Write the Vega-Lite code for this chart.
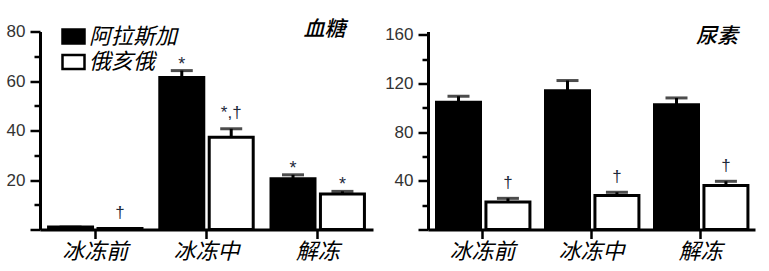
{
  "$schema": "https://vega.github.io/schema/vega-lite/v6.json",
  "background": "white",
  "padding": {"left": 6, "top": 18.5, "right": 5, "bottom": 6},
  "spacing": 11,
  "datasets": {
    "glucose": [
      {"period": "冰冻前", "group": "阿拉斯加", "value": 1.0, "upper": 1.0, "label": ""},
      {"period": "冰冻前", "group": "俄亥俄", "value": 0.4, "upper": 0.4, "label": "†"},
      {"period": "冰冻中", "group": "阿拉斯加", "value": 61.4, "upper": 64.2, "label": "*"},
      {"period": "冰冻中", "group": "俄亥俄", "value": 37.3, "upper": 40.7, "label": "*,†"},
      {"period": "解冻", "group": "阿拉斯加", "value": 20.5, "upper": 22.1, "label": "*"},
      {"period": "解冻", "group": "俄亥俄", "value": 14.3, "upper": 15.4, "label": "*"}
    ],
    "urea": [
      {"period": "冰冻前", "group": "阿拉斯加", "value": 104.5, "upper": 109.5, "label": ""},
      {"period": "冰冻前", "group": "俄亥俄", "value": 22.6, "upper": 25.6, "label": "†"},
      {"period": "冰冻中", "group": "阿拉斯加", "value": 114.1, "upper": 122.4, "label": ""},
      {"period": "冰冻中", "group": "俄亥俄", "value": 27.9, "upper": 30.6, "label": "†"},
      {"period": "解冻", "group": "阿拉斯加", "value": 102.6, "upper": 108.1, "label": ""},
      {"period": "解冻", "group": "俄亥俄", "value": 36.1, "upper": 39.6, "label": "†"}
    ]
  },
  "hconcat": [
    {
      "width": 333,
      "height": 198,
      "data": {"name": "glucose"},
      "encoding": {
        "x": {"field": "period", "type": "nominal", "sort": ["冰冻前", "冰冻中", "解冻"], "scale": {"paddingInner": 0.16, "paddingOuter": 0.077},
          "axis": {"title": null, "labelAngle": 0, "labelFont": "Noto Sans CJK SC", "labelFontSize": 22, "labelFontStyle": "italic", "labelColor": "black", "tickSize": 9, "labelPadding": 3}},
        "xOffset": {"field": "group", "type": "nominal", "sort": ["阿拉斯加", "俄亥俄"], "scale": {"paddingInner": 0.11, "paddingOuter": 0}}
      },
      "layer": [
        {
          "mark": {"type": "bar", "stroke": "black", "strokeWidth": 3},
          "encoding": {
            "y": {"field": "value", "type": "quantitative", "scale": {"domain": [0, 80], "nice": false},
              "axis": {"title": null, "orient": "left", "values": [0, 20, 40, 60, 80], "labelExpr": "datum.value == 0 ? '' : datum.label", "tickSize": 10}},
            "fill": {"field": "group", "type": "nominal", "sort": ["阿拉斯加", "俄亥俄"], "scale": {"domain": ["阿拉斯加", "俄亥俄"], "range": ["black", "white"]},
              "legend": {"orient": "none", "legendX": 21, "legendY": -7.5, "direction": "vertical", "title": null, "symbolType": "M-1,-0.64H1V0.64H-1Z", "symbolSize": 484, "symbolStrokeColor": "black", "symbolStrokeWidth": 2.5, "labelFont": "Noto Sans CJK SC", "labelFontSize": 22, "labelFontStyle": "italic", "labelColor": "black", "labelOffset": 3, "rowPadding": 0.5, "padding": 0, "labelLimit": 200,
                "encode": {"symbols": {"update": {"stroke": {"value": "black"}, "strokeWidth": {"value": 2.5}}}}}}
          }
        },
        {
          "mark": {"type": "rule", "strokeWidth": 3, "color": "black"},
          "encoding": {
            "y": {"field": "value", "type": "quantitative", "scale": {"domain": [0, 80], "nice": false},
              "axis": {"title": null, "orient": "left", "values": [10, 30, 50, 70], "labels": false, "domain": false, "tickSize": 6}},
            "y2": {"field": "upper"}
          }
        },
        {
          "mark": {"type": "tick", "thickness": 3, "size": 22, "color": "black"},
          "encoding": {"y": {"field": "upper", "type": "quantitative", "scale": {"domain": [0, 80], "nice": false}, "axis": null}}
        },
        {
          "transform": [{"filter": "indexof(datum.label, '†') >= 0"}],
          "mark": {"type": "text", "baseline": "alphabetic", "dy": -10.5, "fontSize": 17, "font": "Liberation Sans", "color": "#1e2a3c"},
          "encoding": {"y": {"field": "upper", "type": "quantitative", "scale": {"domain": [0, 80], "nice": false}, "axis": null}, "text": {"field": "label"}}
        },
        {
          "transform": [{"filter": "datum.label == '*'"}],
          "mark": {"type": "text", "baseline": "alphabetic", "dy": -1, "fontSize": 18, "font": "Liberation Sans", "color": "#1e2a3c"},
          "encoding": {"y": {"field": "upper", "type": "quantitative", "scale": {"domain": [0, 80], "nice": false}, "axis": null}, "text": {"field": "label"}}
        },
        {
          "data": {"values": [{"title": "血糖"}]},
          "mark": {"type": "text", "align": "right", "baseline": "middle", "dx": 74.5, "dy": -1.5, "fontSize": 21, "fontStyle": "italic", "fontWeight": 500, "font": "Noto Sans CJK SC", "color": "black"},
          "encoding": {
            "x": {"datum": "解冻"},
            "xOffset": {"value": 0},
            "y": {"datum": 80, "type": "quantitative", "scale": {"domain": [0, 80], "nice": false}, "axis": null},
            "text": {"field": "title"}
          }
        }
      ],
      "resolve": {"axis": {"y": "independent"}}
    },
    {
      "width": 327,
      "height": 198,
      "data": {"name": "urea"},
      "encoding": {
        "x": {"field": "period", "type": "nominal", "sort": ["冰冻前", "冰冻中", "解冻"], "scale": {"paddingInner": 0.156, "paddingOuter": 0.078},
          "axis": {"title": null, "labelAngle": 0, "labelFont": "Noto Sans CJK SC", "labelFontSize": 22, "labelFontStyle": "italic", "labelColor": "black", "tickSize": 9, "labelPadding": 3}},
        "xOffset": {"field": "group", "type": "nominal", "sort": ["阿拉斯加", "俄亥俄"], "scale": {"paddingInner": 0.122, "paddingOuter": 0}}
      },
      "layer": [
        {
          "mark": {"type": "bar", "stroke": "black", "strokeWidth": 3},
          "encoding": {
            "y": {"field": "value", "type": "quantitative", "scale": {"domain": [0, 162.7], "nice": false},
              "axis": {"title": null, "orient": "left", "values": [0, 40, 80, 120, 160], "labelExpr": "datum.value == 0 ? '' : datum.label", "tickSize": 10}},
            "fill": {"field": "group", "type": "nominal", "sort": ["阿拉斯加", "俄亥俄"], "scale": {"domain": ["阿拉斯加", "俄亥俄"], "range": ["black", "white"]}, "legend": null}
          }
        },
        {
          "mark": {"type": "rule", "strokeWidth": 3, "color": "black"},
          "encoding": {
            "y": {"field": "value", "type": "quantitative", "scale": {"domain": [0, 162.7], "nice": false},
              "axis": {"title": null, "orient": "left", "values": [20, 60, 100, 140], "labels": false, "domain": false, "tickSize": 6}},
            "y2": {"field": "upper"}
          }
        },
        {
          "mark": {"type": "tick", "thickness": 3, "size": 22, "color": "black"},
          "encoding": {"y": {"field": "upper", "type": "quantitative", "scale": {"domain": [0, 162.7], "nice": false}, "axis": null}}
        },
        {
          "transform": [{"filter": "indexof(datum.label, '†') >= 0"}],
          "mark": {"type": "text", "baseline": "alphabetic", "dy": -10.5, "fontSize": 17, "font": "Liberation Sans", "color": "#1e2a3c"},
          "encoding": {"y": {"field": "upper", "type": "quantitative", "scale": {"domain": [0, 162.7], "nice": false}, "axis": null}, "text": {"field": "label"}}
        },
        {
          "data": {"values": [{"title": "尿素"}]},
          "mark": {"type": "text", "align": "right", "baseline": "middle", "dx": 83.5, "dy": 2, "fontSize": 21, "fontStyle": "italic", "fontWeight": 500, "font": "Noto Sans CJK SC", "color": "black"},
          "encoding": {
            "x": {"datum": "解冻"},
            "xOffset": {"value": 0},
            "y": {"datum": 160, "type": "quantitative", "scale": {"domain": [0, 162.7], "nice": false}, "axis": null},
            "text": {"field": "title"}
          }
        }
      ],
      "resolve": {"axis": {"y": "independent"}}
    }
  ],
  "resolve": {"scale": {"fill": "independent"}, "legend": {"fill": "independent"}},
  "config": {
    "view": {"stroke": null},
    "axis": {"domainColor": "black", "domainWidth": 3, "tickColor": "black", "tickWidth": 2.5, "grid": false, "labelFont": "Liberation Sans", "labelFontSize": 17, "labelColor": "#333333"},
    "axisY": {"labelPadding": 5}
  }
}
